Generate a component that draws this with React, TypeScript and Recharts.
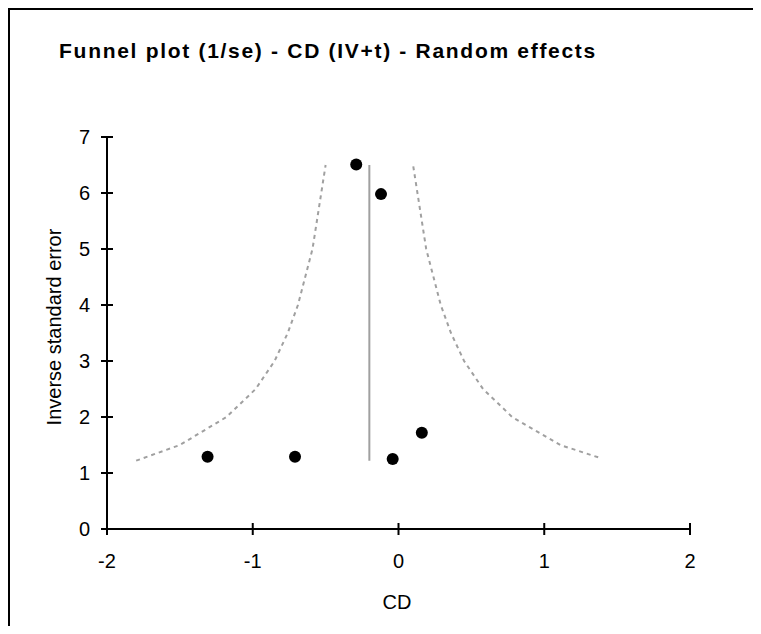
import { ScatterChart, Scatter, XAxis, YAxis } from "recharts";

// study points (CD, 1/se)
const studies = [
  { x: -1.31, y: 1.29 },
  { x: -0.71, y: 1.29 },
  { x: -0.04, y: 1.25 },
  { x: 0.16, y: 1.72 },
  { x: -0.29, y: 6.51 },
  { x: -0.12, y: 5.98 },
];

// pooled estimate line
const pooled = [
  { x: -0.2, y: 1.22 },
  { x: -0.2, y: 6.5 },
];

// funnel limits
const leftLimit = [
  { x: -1.8, y: 1.22 },
  { x: -1.5, y: 1.5 },
  { x: -1.18, y: 2 },
  { x: -0.98, y: 2.5 },
  { x: -0.85, y: 3 },
  { x: -0.76, y: 3.5 },
  { x: -0.69, y: 4 },
  { x: -0.64, y: 4.5 },
  { x: -0.59, y: 5 },
  { x: -0.56, y: 5.5 },
  { x: -0.53, y: 6 },
  { x: -0.5, y: 6.5 },
];
const rightLimit = [
  { x: 1.37, y: 1.28 },
  { x: 1.11, y: 1.5 },
  { x: 0.78, y: 2 },
  { x: 0.58, y: 2.5 },
  { x: 0.45, y: 3 },
  { x: 0.36, y: 3.5 },
  { x: 0.29, y: 4 },
  { x: 0.24, y: 4.5 },
  { x: 0.19, y: 5 },
  { x: 0.16, y: 5.5 },
  { x: 0.13, y: 6 },
  { x: 0.1, y: 6.5 },
];

const xTicks = [-2, -1, 0, 1, 2];
const yTicks = [0, 1, 2, 3, 4, 5, 6, 7];

const font = "'Liberation Sans', Arial, sans-serif";

function XTick(props: any) {
  const { x, y, payload } = props;
  return (
    <g>
      <line x1={x} x2={x} y1={y - 6} y2={y + 6} stroke="#000" strokeWidth={2} />
      <text x={x} y={y + 39} textAnchor="middle" fontSize={20} fontFamily={font} fill="#000">
        {payload.value}
      </text>
    </g>
  );
}

function YTick(props: any) {
  const { x, y, payload } = props;
  return (
    <g>
      <line x1={x - 6} x2={x + 6} y1={y} y2={y} stroke="#000" strokeWidth={2} />
      <text x={x - 17} y={y + 7} textAnchor="end" fontSize={20} fontFamily={font} fill="#000">
        {payload.value}
      </text>
    </g>
  );
}

const noDot = () => <g />;
const dot = (p: any) => <circle cx={p.cx} cy={p.cy} r={6} fill="#000" />;

export default function App() {
  return (
    <div
      style={{
        position: "relative",
        width: 745,
        height: 618,
        boxShadow: "inset 2px 2px 0 #000",
      }}
    >
      <ScatterChart
        width={745}
        height={618}
        margin={{ top: 129, right: 63, bottom: 37, left: 39 }}
        style={{ position: "absolute", left: 0, top: 0 }}
      >
        <XAxis
          type="number"
          dataKey="x"
          domain={[-2, 2]}
          ticks={xTicks}
          allowDataOverflow
          height={60}
          tickSize={0}
          tickMargin={0}
          tickLine={false}
          axisLine={{ stroke: "#000", strokeWidth: 2 }}
          tick={<XTick />}
        />
        <YAxis
          type="number"
          dataKey="y"
          domain={[0, 7]}
          ticks={yTicks}
          allowDataOverflow
          width={60}
          tickSize={0}
          tickMargin={0}
          tickLine={false}
          axisLine={{ stroke: "#000", strokeWidth: 2 }}
          tick={<YTick />}
        />
        <Scatter
          data={leftLimit}
          line={{ stroke: "#a0a0a0", strokeWidth: 2, strokeDasharray: "4 4" }}
          shape={noDot}
          isAnimationActive={false}
        />
        <Scatter
          data={rightLimit}
          line={{ stroke: "#a0a0a0", strokeWidth: 2, strokeDasharray: "4 4" }}
          shape={noDot}
          isAnimationActive={false}
        />
        <Scatter
          data={pooled}
          line={{ stroke: "#a0a0a0", strokeWidth: 2 }}
          shape={noDot}
          isAnimationActive={false}
        />
        <Scatter data={studies} shape={dot} isAnimationActive={false} />
      </ScatterChart>
      <div
        style={{
          position: "absolute",
          left: 0,
          top: 31,
          width: 640,
          textAlign: "center",
          fontFamily: font,
          fontWeight: "bold",
          fontSize: 21,
          letterSpacing: 1.7,
          whiteSpace: "nowrap",
        }}
      >
        Funnel plot (1/se) - CD (IV+t) - Random effects
      </div>
      <div
        style={{
          position: "absolute",
          left: 46,
          top: 319,
          transform: "translate(-50%, -50%) rotate(-90deg)",
          whiteSpace: "nowrap",
          fontFamily: font,
          fontSize: 20,
        }}
      >
        Inverse standard error
      </div>
      <div
        style={{
          position: "absolute",
          left: 389,
          top: 594,
          transform: "translate(-50%, -50%)",
          fontFamily: font,
          fontSize: 20,
        }}
      >
        CD
      </div>
    </div>
  );
}
